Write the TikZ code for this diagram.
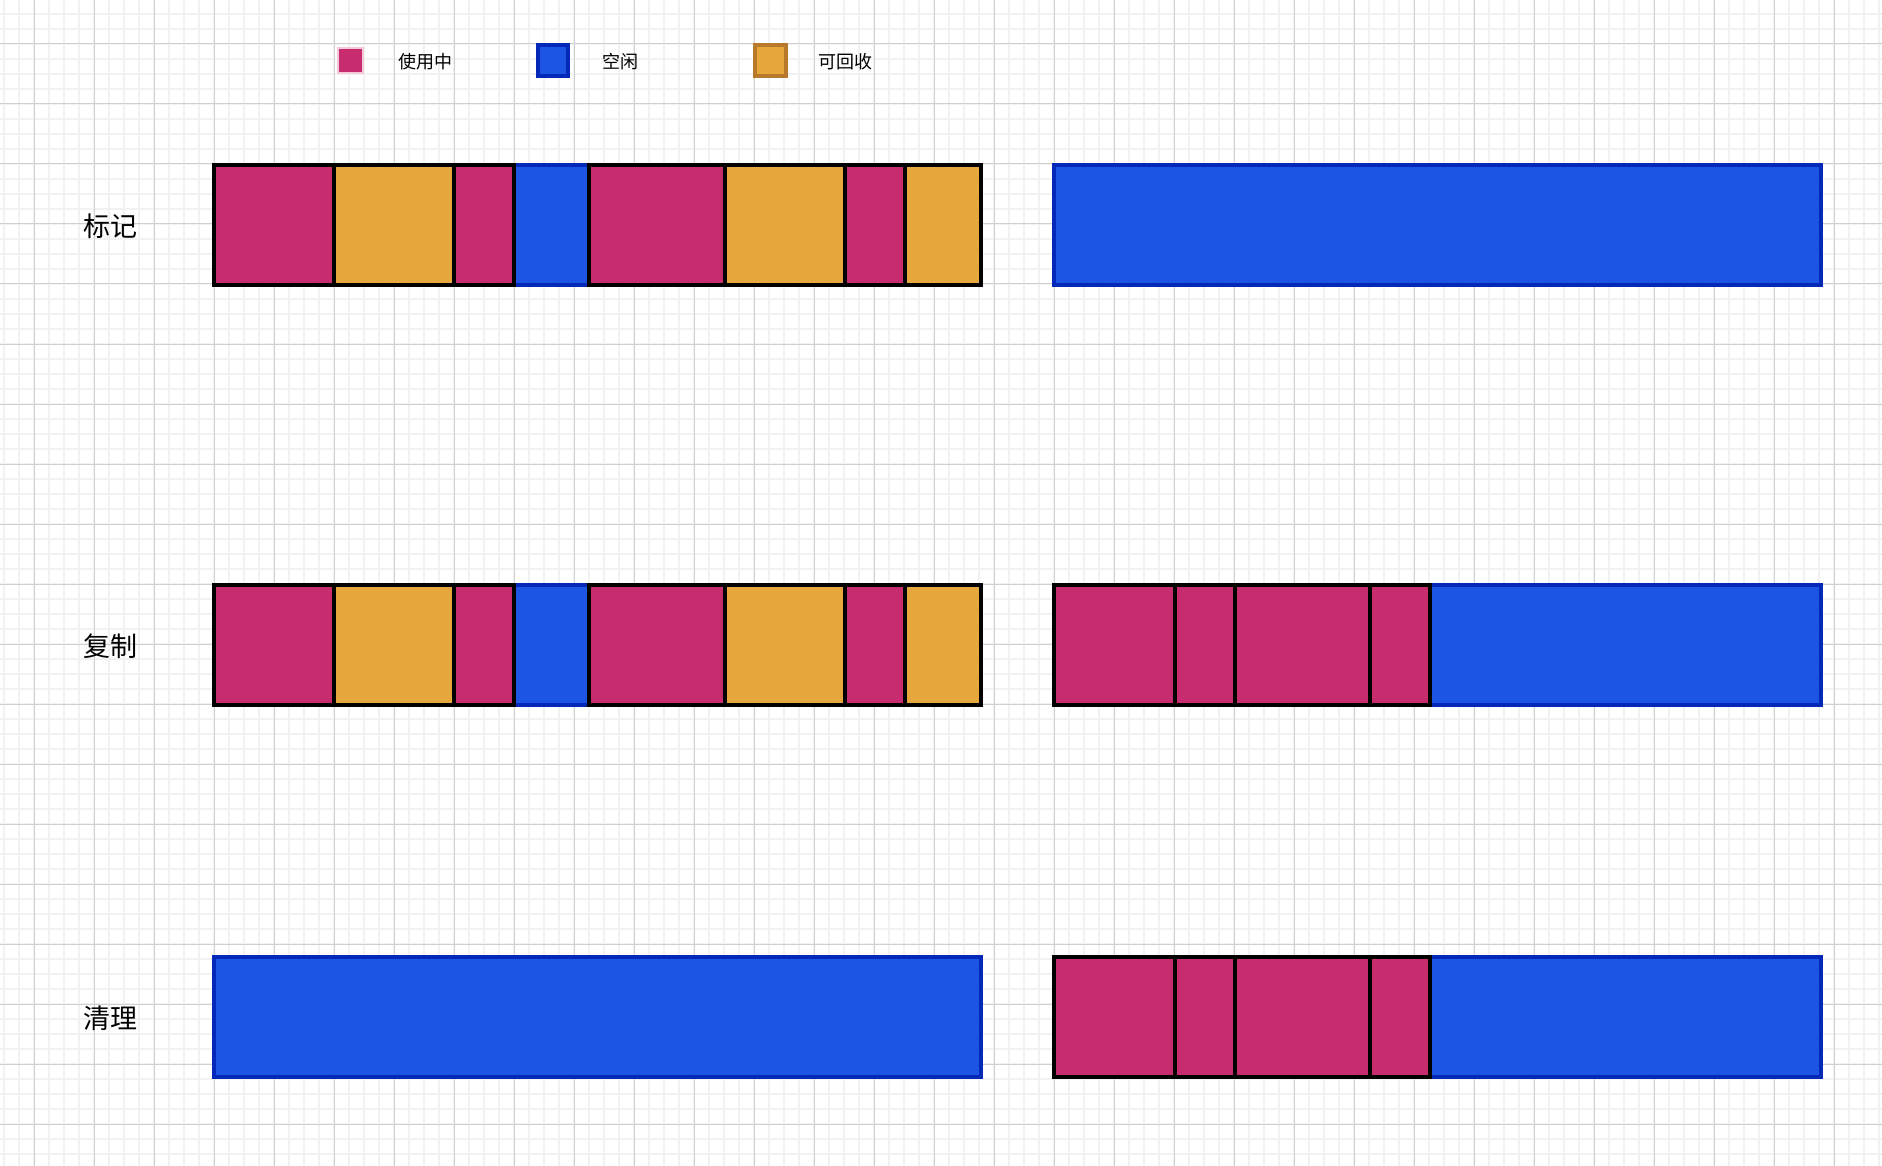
\documentclass[tikz,border=0pt]{standalone}
\usepackage{fontspec}
\newfontfamily\cjk{Noto Sans CJK SC}
\definecolor{mag}{HTML}{C72C6F}
\definecolor{org}{HTML}{E6A73D}
\definecolor{orgb}{HTML}{B8792B}
\definecolor{blu}{HTML}{1C54E4}
\definecolor{blub}{HTML}{0429B8}
\definecolor{gmaj}{HTML}{D0D0D0}
\definecolor{gmin}{HTML}{F2F2F2}
\definecolor{magb}{HTML}{F4C9DA}
\tikzset{
  minorln/.style={gmin, line width=1.5pt},
  majorln/.style={gmaj, line width=1pt},
  used/.style={fill=mag, draw=black, line width=4pt},
  reclaim/.style={fill=org, draw=black, line width=4pt},
  free/.style={fill=blu, draw=blub, line width=4pt},
  rowlabel/.style={font=\cjk\fontsize{27}{30}\selectfont, inner sep=0pt},
  legtext/.style={font=\cjk\fontsize{18}{20}\selectfont, inner sep=0pt},
}
\begin{document}
\begin{tikzpicture}[x=1pt,y=-1pt]
\useasboundingbox (0,0) rectangle (1882,1166);
\fill[white] (0,0) rectangle (1882,1166);
% grid
\foreach \x in {4,19,...,1882} \draw[minorln] (\x,0) -- (\x,1166);
\foreach \y in {14,29,...,1166} \draw[minorln] (0,\y) -- (1882,\y);
\foreach \x in {34,94,...,1882} \draw[majorln] (\x,0) -- (\x,1166);
\foreach \y in {44,104,...,1166} \draw[majorln] (0,\y) -- (1882,\y);

% legend
\draw[fill=mag, draw=magb, line width=1.5pt] (338,48) rectangle (363,73);
\node[legtext] (l1) at (425,62) {使用中};
\draw[fill=blu, draw=blub, line width=4pt] (538,45) rectangle (568,76);
\node[legtext] (l2) at (620,62) {空闲};
\draw[fill=org, draw=orgb, line width=4pt] (755,45) rectangle (786,76);
\node[legtext] (l3) at (845,62) {可回收};

% row labels
\node[rowlabel] (r1) at (110,226) {标记};
\node[rowlabel] (r2) at (110,646) {复制};
\node[rowlabel] (r3) at (110,1018) {清理};

% row 1 left
\draw[free] (514,165) rectangle (589,285);
\draw[used] (214,165) rectangle (334,285);
\draw[reclaim] (334,165) rectangle (454,285);
\draw[used] (454,165) rectangle (514,285);
\draw[used] (589,165) rectangle (725,285);
\draw[reclaim] (725,165) rectangle (845,285);
\draw[used] (845,165) rectangle (905,285);
\draw[reclaim] (905,165) rectangle (981,285);
% row 1 right
\draw[free] (1054,165) rectangle (1821,285);

% row 2 left
\draw[free] (514,585) rectangle (589,705);
\draw[used] (214,585) rectangle (334,705);
\draw[reclaim] (334,585) rectangle (454,705);
\draw[used] (454,585) rectangle (514,705);
\draw[used] (589,585) rectangle (725,705);
\draw[reclaim] (725,585) rectangle (845,705);
\draw[used] (845,585) rectangle (905,705);
\draw[reclaim] (905,585) rectangle (981,705);
% row 2 right
\draw[free] (1054,585) rectangle (1821,705);
\draw[used] (1054,585) rectangle (1175,705);
\draw[used] (1175,585) rectangle (1235,705);
\draw[used] (1235,585) rectangle (1370,705);
\draw[used] (1370,585) rectangle (1430,705);

% row 3 left
\draw[free] (214,957) rectangle (981,1077);
% row 3 right
\draw[free] (1054,957) rectangle (1821,1077);
\draw[used] (1054,957) rectangle (1175,1077);
\draw[used] (1175,957) rectangle (1235,1077);
\draw[used] (1235,957) rectangle (1370,1077);
\draw[used] (1370,957) rectangle (1430,1077);
\end{tikzpicture}
\end{document}
